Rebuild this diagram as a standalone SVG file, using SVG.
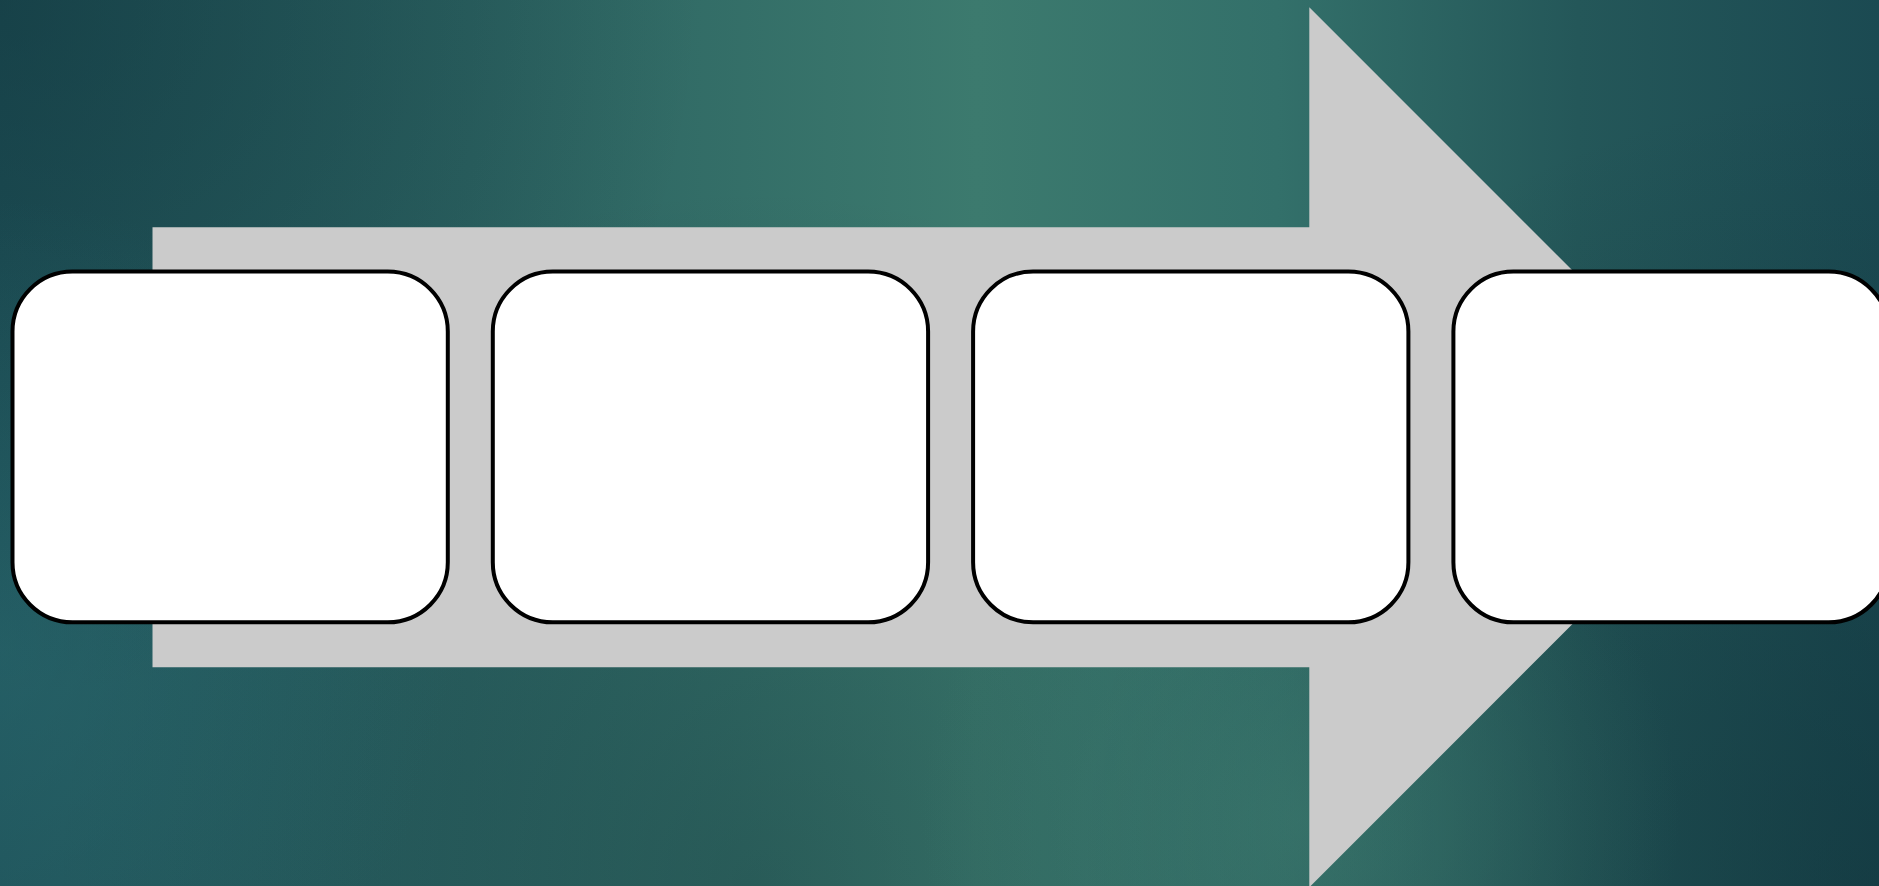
<svg xmlns="http://www.w3.org/2000/svg" width="1879" height="886" viewBox="0 0 1879 886">
  <defs>
    <linearGradient id="bgH" x1="0" y1="0" x2="1879" y2="0" gradientUnits="userSpaceOnUse">
      <stop offset="0" stop-color="#1f535a"/>
      <stop offset="0.25" stop-color="#2b6261"/>
      <stop offset="0.52" stop-color="#3c7a6e"/>
      <stop offset="0.68" stop-color="#33706a"/>
      <stop offset="0.84" stop-color="#245759"/>
      <stop offset="1" stop-color="#1b4a52"/>
    </linearGradient>
    <radialGradient id="darkTL" cx="0" cy="0" r="700" gradientUnits="userSpaceOnUse">
      <stop offset="0" stop-color="#0d2c33" stop-opacity="0.45"/>
      <stop offset="1" stop-color="#0d2c33" stop-opacity="0"/>
    </radialGradient>
    <radialGradient id="darkBR" cx="1879" cy="886" r="800" gradientUnits="userSpaceOnUse">
      <stop offset="0" stop-color="#0d2c33" stop-opacity="0.45"/>
      <stop offset="1" stop-color="#0d2c33" stop-opacity="0"/>
    </radialGradient>
    <radialGradient id="darkBM" cx="750" cy="886" r="700" gradientUnits="userSpaceOnUse">
      <stop offset="0" stop-color="#0d2c33" stop-opacity="0.3"/>
      <stop offset="1" stop-color="#0d2c33" stop-opacity="0"/>
    </radialGradient>
    <radialGradient id="lightL" cx="0" cy="650" r="450" gradientUnits="userSpaceOnUse">
      <stop offset="0" stop-color="#2a6a70" stop-opacity="0.5"/>
      <stop offset="1" stop-color="#2a6a70" stop-opacity="0"/>
    </radialGradient>
    <radialGradient id="lightB" cx="1300" cy="820" r="380" gradientUnits="userSpaceOnUse">
      <stop offset="0" stop-color="#3d7a6e" stop-opacity="0.6"/>
      <stop offset="1" stop-color="#3d7a6e" stop-opacity="0"/>
    </radialGradient>
  </defs>
  <style>
    .box { fill: #ffffff; stroke: #000000; stroke-width: 4; }
    .arrow { fill: #cbcbcb; }
  </style>
  <g id="background">
    <rect x="0" y="0" width="1879" height="886" fill="url(#bgH)"/>
    <rect x="0" y="0" width="1879" height="886" fill="url(#darkTL)"/>
    <rect x="0" y="0" width="1879" height="886" fill="url(#darkBR)"/>
    <rect x="0" y="0" width="1879" height="886" fill="url(#darkBM)"/>
    <rect x="0" y="0" width="1879" height="886" fill="url(#lightL)"/>
    <rect x="0" y="0" width="1879" height="886" fill="url(#lightB)"/>
  </g>
  <g id="arrow">
    <polygon class="arrow" points="152.5,227.3 1309.3,227.3 1309.3,7.3 1749.3,447.3 1309.3,887.3 1309.3,667.3 152.5,667.3"/>
  </g>
  <g id="connectors"></g>
  <g id="box1"><rect class="box" x="12.5" y="271.5" width="435.3" height="350.8" rx="60" ry="60"/></g>
  <g id="box2"><rect class="box" x="492.8" y="271.5" width="435.3" height="350.8" rx="60" ry="60"/></g>
  <g id="box3"><rect class="box" x="973.1" y="271.5" width="435.3" height="350.8" rx="60" ry="60"/></g>
  <g id="box4"><rect class="box" x="1453.4" y="271.5" width="435.3" height="350.8" rx="60" ry="60"/></g>
</svg>
